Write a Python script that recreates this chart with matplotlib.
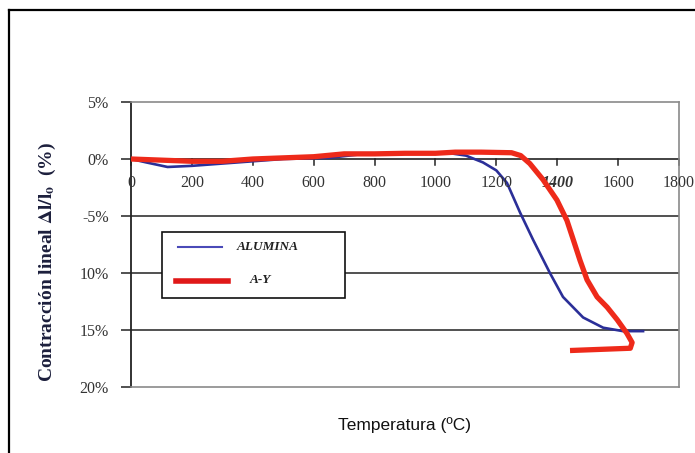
import matplotlib
matplotlib.use('agg')
import matplotlib.pyplot as plt
from matplotlib.lines import Line2D
from matplotlib.patches import Rectangle

plt.rcParams['mathtext.fontset'] = 'stix'

# contraccion lineal (%) vs temperatura (C)
temp_alumina = [0, 50, 120, 200, 300, 400, 500, 650, 750, 900, 1000, 1050, 1100,
                1156, 1200, 1235, 1278, 1321, 1376, 1419, 1485, 1551, 1616, 1682]
contr_alumina = [0, -0.3, -0.7, -0.6, -0.4, -0.2, 0, 0.1, 0.4, 0.5, 0.5, 0.5, 0.3,
                 -0.3, -1.0, -2.1, -4.7, -7.1, -10.0, -12.1, -13.9, -14.8, -15.1, -15.1]

temp_ay = [0, 100, 200, 300, 400, 500, 600, 700, 800, 900, 1000, 1065, 1150, 1250,
           1280, 1310, 1353, 1399, 1432, 1453, 1475, 1498, 1531, 1564, 1597, 1629, 1646,
           1640, 1541, 1442]
contr_ay = [0, -0.1, -0.2, -0.2, 0, 0.1, 0.2, 0.45, 0.45, 0.5, 0.5, 0.6, 0.6, 0.55,
            0.3, -0.4, -1.8, -3.6, -5.4, -7.1, -8.9, -10.6, -12.1, -13.0, -14.1, -15.3, -16.1,
            -16.6, -16.7, -16.8]

series_names = ["ALUMINA", "A-Y"]
xticks = [0, 200, 400, 600, 800, 1000, 1200, 1400, 1600, 1800]
yticks = [5, 0, -5, -10, -15, -20]
ytick_labels = ["5%", "0%", "-5%", "10%", "15%", "20%"]

blue = '#2b2f98'
red = '#ee2a1a'

fig = plt.figure(figsize=(6.95, 4.53), dpi=100)
ax = fig.add_axes([131/695, 1-387/453, 548/695, 285/453])

ax.plot(temp_alumina, contr_alumina, color=blue, lw=1.9, zorder=3)
ax.plot(temp_ay, contr_ay, color=red, lw=3.8, zorder=4, solid_capstyle='butt')

ax.set_xlim(0, 1800)
ax.set_ylim(-20, 5)

# gridlines
for g in [-5, -10, -15]:
    ax.axhline(g, color='#222222', lw=1.1, zorder=1)

# spines
for s in ['top', 'right', 'bottom']:
    ax.spines[s].set_color('#8a8a8a')
    ax.spines[s].set_linewidth(1.2)
ax.spines['left'].set_color('#222222')
ax.spines['left'].set_linewidth(1.3)

# x axis drawn at 0%
ax.axhline(0, color='#222222', lw=1.2, zorder=2)
ax.set_xticks([])
for t in xticks:
    ax.plot([t, t], [0, -0.5], color='#222222', lw=1.1, clip_on=False, zorder=2)
    kw = dict(fontsize=11.5, family='Liberation Serif', color='#333333')
    if t == 1400:
        kw.update(fontweight='bold', fontstyle='italic')
    ax.text(t, -1.4, str(t), ha='center', va='top', **kw)

ax.set_yticks(yticks)
ax.set_yticklabels(ytick_labels, fontsize=11.5, family='Liberation Serif', color='#333333')
ax.tick_params(axis='y', direction='out', length=7, width=1.1, pad=9, color='#222222')

# legend box drawn by hand
lx0, lx1 = (162-131)/548, (345-131)/548
ly0, ly1 = (387-298)/285, (387-232)/285
ax.add_patch(Rectangle((lx0, ly0), lx1-lx0, ly1-ly0, transform=ax.transAxes,
                       facecolor='white', edgecolor='#111111', lw=1.2, zorder=5))
ax.add_line(Line2D([(178-131)/548, (222-131)/548], [(387-247)/285]*2,
                   transform=ax.transAxes, color='#4a4ab8', lw=1.5, zorder=6))
ax.add_line(Line2D([(176-131)/548, (228-131)/548], [(387-281)/285]*2,
                   transform=ax.transAxes, color='#e01818', lw=4, zorder=6))
ax.text((237-131)/548, (387-247)/285, series_names[0], transform=ax.transAxes,
        va='center', ha='left', fontsize=9.5, family='Liberation Serif',
        fontweight='bold', fontstyle='italic', color='#222222', zorder=7)
ax.text((250-131)/548, (387-280)/285, series_names[1], transform=ax.transAxes,
        va='center', ha='left', fontsize=9.5, family='Liberation Serif',
        fontweight='bold', fontstyle='italic', color='#222222', zorder=7)

# axis titles
fig.text(405/695, 1-425/453, "Temperatura (ºC)", ha='center', va='center',
         fontsize=12.5, family='Liberation Sans', color='#111111')
fig.text(47/695, 1-262/453, "Contracción lineal $\\mathbf{\\Delta l/l_o}$  (%)",
         rotation=90, ha='center', va='center', fontsize=14,
         family='Liberation Serif', fontweight='bold', color='#1c1f3c')

# outer chart frame (runs off the right and bottom of the picture)
fig.add_artist(Line2D([9/695, 9/695], [0, 1-10/453], color='black', lw=1.6))
fig.add_artist(Line2D([9/695, 1], [1-10/453, 1-10/453], color='black', lw=1.6))

fig.savefig("out.png", dpi=100)
